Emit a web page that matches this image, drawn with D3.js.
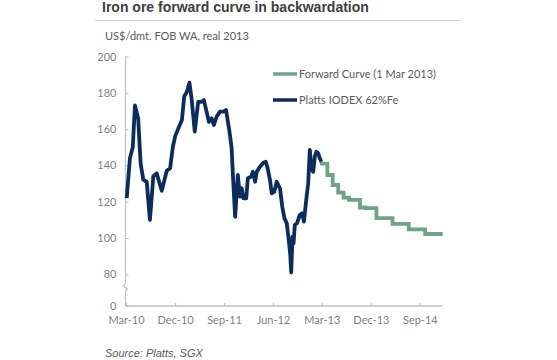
<!DOCTYPE html>
<html><head><meta charset="utf-8">
<script src="https://cdn.jsdelivr.net/npm/d3@7"></script>
<style>
html,body{margin:0;padding:0;background:#fff;}
svg{display:block;}
</style></head>
<body>
<svg id="chart" width="557" height="360"></svg>
<script>
// ---- data ----
const title = "Iron ore forward curve in backwardation";
const subtitle = "US$/dmt. FOB WA, real 2013";
const source = "Source: Platts, SGX";
const seriesNames = ["Forward Curve (1 Mar 2013)", "Platts IODEX 62%Fe"];
const yTicks = [0, 80, 100, 120, 140, 160, 180, 200];
const xTickDates = ["2010-03-01","2010-12-01","2011-09-01","2012-06-01","2013-03-01","2013-12-01","2014-09-01"];
const xTickLabels = ["Mar-10","Dec-10","Sep-11","Jun-12","Mar-13","Dec-13","Sep-14"];

const plattsDates = ["2010-03-05","2010-03-23","2010-04-08","2010-04-20","2010-05-08","2010-05-22","2010-06-06","2010-06-25","2010-07-13","2010-08-01","2010-08-20","2010-09-17","2010-10-15","2010-11-03","2010-11-18","2010-12-01","2010-12-19","2011-01-08","2011-01-21","2011-02-05","2011-02-19","2011-03-03","2011-03-21","2011-04-09","2011-04-28","2011-05-11","2011-05-26","2011-06-08","2011-06-23","2011-07-06","2011-07-21","2011-08-09","2011-08-28","2011-09-12","2011-09-30","2011-10-13","2011-10-22","2011-11-02","2011-11-17","2011-11-29","2011-12-09","2011-12-18","2012-01-03","2012-01-12","2012-01-31","2012-02-09","2012-02-22","2012-03-02","2012-03-20","2012-04-08","2012-04-21","2012-05-02","2012-05-15","2012-05-25","2012-06-08","2012-06-22","2012-07-10","2012-07-23","2012-08-04","2012-08-17","2012-08-26","2012-09-05","2012-09-11","2012-09-18","2012-09-24","2012-10-01","2012-10-13","2012-10-29","2012-11-11","2012-11-21","2012-12-05","2012-12-15","2012-12-24","2013-01-02","2013-01-12","2013-01-21","2013-01-30","2013-02-09","2013-02-18","2013-02-27"];
const plattsValues = [122,144,150,173,166,141,132,131,110,134,135.6,126,137,138.4,150,156,160.4,165,178,180.6,185.6,177,158.6,175,175,176,169.6,164,166,162.3,166.8,169.6,169.6,170.5,159.5,150,132,111.7,134.7,122.8,127.4,121.9,121.9,132.9,133.8,136.5,131,136.5,139.3,141.5,142,138.4,132,124.6,125.5,131,127.4,117.2,110.9,108.1,100.7,91.5,81,100.7,97.1,107.2,108.1,112.7,113.6,109,121.9,130.1,148.5,138.4,136.5,144.8,147.5,146.7,143.9,142];

const fwdDates = ["2013-03-01","2013-04-01","2013-05-01","2013-06-01","2013-07-01","2013-08-01","2013-09-01","2013-10-01","2013-11-01","2013-12-01","2014-01-01","2014-02-01","2014-03-01","2014-04-01","2014-05-01","2014-06-01","2014-07-01","2014-08-01","2014-09-01","2014-10-01","2014-11-01","2014-12-01","2015-01-07"];
const fwdValues = [141,134.7,129.2,125,122.2,121,121,116.8,116.5,116.5,111,111,111,107.8,107.8,107.8,104.8,104.8,104.8,102.2,102.2,102.2,102.2];

// ---- drawing ----
const parse = d3.timeParse("%Y-%m-%d");
const svg = d3.select("#chart");
const navy = "#0b2d5e", green = "#6fa386", grayText = "#595959", axisGray = "#bfbfbf", tickText = "#7f7f7f";

const x = d3.scaleTime().domain([parse("2010-03-01"), parse("2015-01-07")]).range([126, 442.7]);
const y = d3.scaleLinear().domain([0, 80, 200]).range([306, 274.3, 56.5]);

// title
svg.append("text").attr("x", 102).attr("y", 11.5).attr("font-family", "Arial, 'Liberation Sans', sans-serif")
  .attr("font-weight", "bold").attr("font-size", 14).attr("fill", "#404040").text(title);
svg.append("line").attr("x1", 95).attr("x2", 460).attr("y1", 20.5).attr("y2", 20.5)
  .attr("stroke", "#d0d0d0").attr("stroke-width", 1);
svg.append("text").attr("x", 105).attr("y", 40).attr("font-family", "Lato, 'Open Sans', sans-serif")
  .attr("font-size", 11).attr("fill", grayText).text(subtitle);

// y axis
const yAxis = d3.axisRight(y).tickValues(yTicks).tickSize(3).tickFormat(d3.format("d"));
const gy = svg.append("g").attr("transform", "translate(125.5,0)").call(yAxis);
gy.select(".domain").remove();
gy.selectAll(".tick line").attr("stroke", axisGray);
gy.selectAll(".tick text").attr("x", -9).attr("text-anchor", "end")
  .attr("font-family", "Lato, 'Open Sans', sans-serif").attr("font-size", 11).attr("fill", tickText);
// y axis line with break
gy.append("path").attr("fill", "none").attr("stroke", axisGray).attr("stroke-width", 1.2)
  .attr("d", `M0,${y(200)} V${283} L-2,${286} L2,${289} L0,${291} V${y(0)}`);

// x axis
const xAxis = d3.axisBottom(x).tickValues(xTickDates.map(parse)).tickSize(-3)
  .tickFormat((d, i) => xTickLabels[i]);
const gx = svg.append("g").attr("transform", "translate(0,306)").call(xAxis);
gx.select(".domain").attr("stroke", axisGray).attr("stroke-width", 1.5).attr("d", `M${x.range()[0] - 0.5},0H${x.range()[1]}`);
gx.selectAll(".tick line").attr("stroke", axisGray);
gx.selectAll(".tick text").attr("y", 10).attr("font-family", "Lato, 'Open Sans', sans-serif")
  .attr("font-size", 11).attr("fill", tickText);

// lines
const platts = plattsDates.map((d, i) => ({date: parse(d), value: plattsValues[i]}));
const fwd = fwdDates.map((d, i) => ({date: parse(d), value: fwdValues[i]}));
const line = d3.line().x(d => x(d.date)).y(d => y(d.value));
const stepLine = d3.line().x(d => x(d.date)).y(d => y(d.value)).curve(d3.curveStepAfter);

svg.append("path").datum([platts[platts.length - 1], fwd[0]].concat(fwd))
  .attr("fill", "none").attr("stroke", green).attr("stroke-width", 3.8)
  .attr("d", d => line(d.slice(0, 2)) + stepLine(d.slice(2)).replace(/^M/, "L"));
svg.append("path").datum(platts).attr("fill", "none").attr("stroke", navy)
  .attr("stroke-width", 3.8).attr("stroke-linejoin", "round").attr("d", line);

// legend
const legend = [{name: seriesNames[0], color: green, y: 74}, {name: seriesNames[1], color: navy, y: 100}];
const lg = svg.append("g").selectAll("g").data(legend).join("g");
lg.append("line").attr("x1", 273).attr("x2", 297).attr("y1", d => d.y).attr("y2", d => d.y)
  .attr("stroke", d => d.color).attr("stroke-width", 3.5);
lg.append("text").attr("x", 299).attr("y", d => d.y + 4).attr("font-family", "Lato, 'Open Sans', sans-serif")
  .attr("font-size", 11).attr("fill", grayText).text(d => d.name);

// source
svg.append("text").attr("x", 105).attr("y", 357).attr("font-family", "Arial, 'Liberation Sans', sans-serif")
  .attr("font-style", "italic").attr("font-size", 11).attr("fill", grayText).text(source);
</script>
</body></html>
